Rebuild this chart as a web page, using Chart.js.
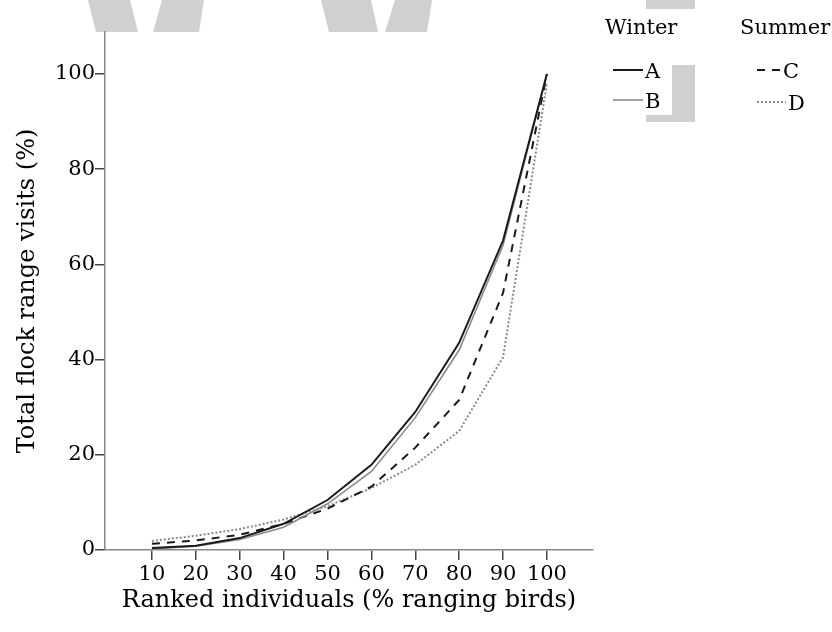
<!DOCTYPE html>
<html>
<head>
<meta charset="utf-8">
<script src="https://cdn.jsdelivr.net/npm/chart.js@4"></script>
<style>
html,body{margin:0;padding:0;background:#fff;}
#wrap{width:832px;height:632px;position:relative;}
</style>
</head>
<body>
<div id="wrap"><canvas id="c" width="832" height="632"></canvas></div>
<script>
// ---- data ----
const categories = [10, 20, 30, 40, 50, 60, 70, 80, 90, 100];
const seriesA = [0.4, 0.9, 2.5, 5.5, 10.5, 17.9, 29.0, 43.5, 65.0, 100];
const seriesB = [0.2, 0.8, 2.2, 4.8, 9.7, 16.5, 27.8, 42.0, 64.0, 100];
const seriesC = [1.3, 2.0, 3.2, 5.5, 8.7, 13.3, 21.5, 31.5, 54.0, 100];
const seriesD = [1.9, 3.0, 4.4, 6.4, 9.2, 13.0, 17.9, 25.0, 40.5, 98];
const seriesNames = ['A', 'B', 'C', 'D'];
const groupNames = ['Winter', 'Summer'];
const yTicks = [0, 20, 40, 60, 80, 100];
const xTitle = 'Ranked individuals (% ranging birds)';
const yTitle = 'Total flock range visits (%)';

const FONT = '"DejaVu Serif", "Liberation Serif", serif';
const TXT = '#000';

function pts(vals) { return categories.map((c, i) => ({ x: c, y: vals[i] })); }

const styles = [
  { borderColor: '#1a1a1a', borderWidth: 2, borderDash: [] },
  { borderColor: '#8a8a8a', borderWidth: 1.6, borderDash: [] },
  { borderColor: '#1a1a1a', borderWidth: 2, borderDash: [8, 7] },
  { borderColor: '#8a8a8a', borderWidth: 2, borderDash: [2, 2] }
];
const allSeries = [seriesA, seriesB, seriesC, seriesD];

const datasets = allSeries.map((s, i) => Object.assign({
  label: seriesNames[i],
  data: pts(s),
  fill: false,
  tension: 0,
  pointRadius: 0,
  pointHoverRadius: 0
}, styles[i]));

// decorative grey blocks seen in the reference image (not data)
const bgPlugin = {
  id: 'bgShapes',
  beforeDraw(chart) {
    const ctx = chart.ctx;
    ctx.save();
    ctx.fillStyle = '#d0d0d0';
    const polys = [
      [[88,0],[130,0],[138,32],[96,32]],
      [[162,0],[204,0],[199,32],[153,32]],
      [[321,0],[371,0],[378,32],[329,32]],
      [[395,0],[432,0],[427,32],[385,32]],
      [[646,0],[695,0],[695,9],[646,9]],
      [[672,65],[695,65],[695,122],[646,122],[646,115],[672,115]]
    ];
    polys.forEach(p => {
      ctx.beginPath();
      p.forEach((q, k) => k ? ctx.lineTo(q[0], q[1]) : ctx.moveTo(q[0], q[1]));
      ctx.closePath();
      ctx.fill();
    });
    ctx.restore();
  }
};

const legendPlugin = {
  id: 'twoColLegend',
  afterDraw(chart) {
    const ctx = chart.ctx;
    const ds = chart.data.datasets;
    ctx.save();
    ctx.font = '21px ' + FONT;
    ctx.fillStyle = TXT;
    ctx.textBaseline = 'alphabetic';
    ctx.textAlign = 'left';
    ctx.fillText(groupNames[0], 605, 34);
    ctx.fillText(groupNames[1], 740, 34);
    const rows = [
      { i: 0, x0: 613, x1: 643, y: 70 },
      { i: 1, x0: 613, x1: 643, y: 100 },
      { i: 2, x0: 757, x1: 781, y: 70 },
      { i: 3, x0: 757, x1: 786, y: 102 }
    ];
    rows.forEach(r => {
      const d = ds[r.i];
      ctx.beginPath();
      ctx.strokeStyle = d.borderColor;
      ctx.lineWidth = d.borderWidth;
      ctx.setLineDash(d.borderDash || []);
      ctx.moveTo(r.x0, r.y);
      ctx.lineTo(r.x1, r.y);
      ctx.stroke();
      ctx.setLineDash([]);
      ctx.fillStyle = TXT;
      ctx.fillText(d.label, r.x1 + 2, r.y + 8);
    });
    ctx.restore();
  }
};

new Chart(document.getElementById('c'), {
  type: 'line',
  data: { datasets },
  plugins: [bgPlugin, legendPlugin],
  options: {
    responsive: false,
    devicePixelRatio: 1,
    animation: false,
    layout: { padding: { top: 32, right: 239, left: 0, bottom: 0 } },
    plugins: { legend: { display: false }, tooltip: { enabled: false } },
    scales: {
      x: {
        type: 'linear',
        min: -0.7,
        max: 110.5,
        afterBuildTicks(scale) { scale.ticks = categories.map(v => ({ value: v })); },
        afterFit(scale) { scale.height = 82; },
        border: { display: true, color: '#888', width: 1.5 },
        grid: { drawOnChartArea: false, drawTicks: true, tickLength: 10, color: '#444', lineWidth: 1.5 },
        ticks: { color: TXT, font: { family: FONT, size: 21 }, padding: 2, maxRotation: 0, autoSkip: false },
        title: { display: true, text: xTitle, color: TXT, font: { family: FONT, size: 24 }, padding: { top: 0, bottom: 17 } }
      },
      y: {
        type: 'linear',
        min: 0,
        max: 108.8,
        afterBuildTicks(scale) { scale.ticks = yTicks.map(v => ({ value: v })); },
        afterFit(scale) { scale.width = 105; },
        border: { display: true, color: '#888', width: 1.5 },
        grid: { drawOnChartArea: false, drawTicks: true, tickLength: 10, color: '#444', lineWidth: 1.5 },
        ticks: { color: TXT, font: { family: FONT, size: 21 }, padding: 0 },
        title: { display: true, text: yTitle, color: TXT, font: { family: FONT, size: 24 }, padding: { top: 13, bottom: 0 } }
      }
    }
  }
});
</script>
</body>
</html>
